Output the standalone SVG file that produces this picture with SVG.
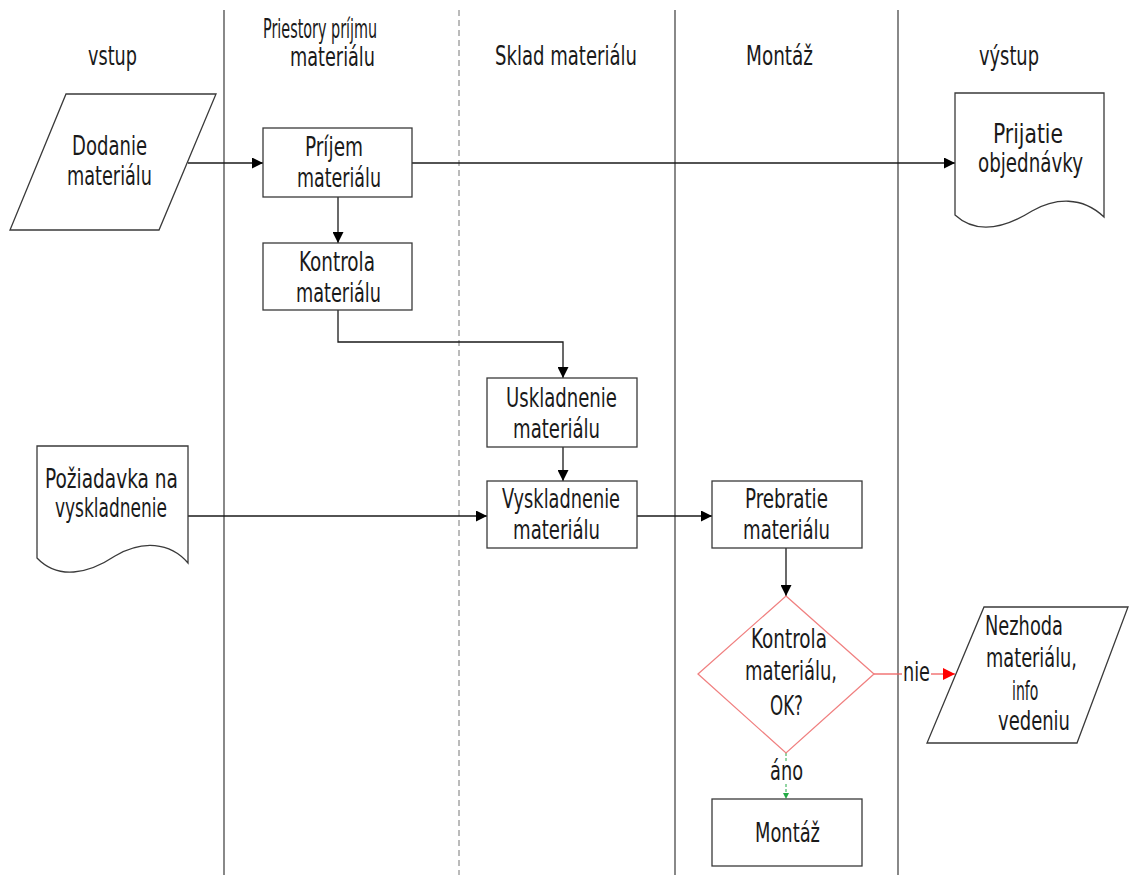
<svg xmlns="http://www.w3.org/2000/svg" width="1129" height="875" viewBox="0 0 1129 875">
<style>
text{font-family:"DejaVu Sans Condensed","DejaVu Sans","Liberation Sans Narrow",sans-serif;fill:#1a1a1a;font-size:26px}
.shape{fill:#fff;stroke:#3a3a3a;stroke-width:1.3}
.lane{stroke:#3a3a3a;stroke-width:1.2}
.conn{fill:none;stroke:#1a1a1a;stroke-width:1.3}
</style>
<defs>
<marker id="ah" viewBox="0 0 10 10" refX="10" refY="5" markerWidth="11" markerHeight="11" markerUnits="userSpaceOnUse" orient="auto"><path d="M0,0 L10,5 L0,10 Z" fill="#000"/></marker>
<marker id="ahr" viewBox="0 0 10 10" refX="10" refY="5" markerWidth="12" markerHeight="12" markerUnits="userSpaceOnUse" orient="auto"><path d="M0,0 L10,5 L0,10 Z" fill="#ff0000"/></marker>
<marker id="ahg" viewBox="0 0 10 10" refX="10" refY="5" markerWidth="6" markerHeight="6" markerUnits="userSpaceOnUse" orient="auto"><path d="M0,0 L10,5 L0,10 Z" fill="#22aa44"/></marker>
</defs>
<rect width="1129" height="875" fill="#fff"/>
<g id="lanes">
<line class="lane" x1="224" y1="10" x2="224" y2="875"/>
<line x1="459" y1="10" x2="459" y2="875" stroke="#777" stroke-width="1" stroke-dasharray="6,4"/>
<line class="lane" x1="675" y1="10" x2="675" y2="875"/>
<line class="lane" x1="898" y1="10" x2="898" y2="875"/>
<text x="88" y="65" textLength="49" lengthAdjust="spacingAndGlyphs">vstup</text>
<text transform="translate(263,38) scale(0.615,1)" x="0" y="0">Priestory príjmu</text>
<text x="290" y="66" textLength="85" lengthAdjust="spacingAndGlyphs">materiálu</text>
<text x="495" y="65" textLength="142" lengthAdjust="spacingAndGlyphs">Sklad materiálu</text>
<text x="746" y="65" textLength="67" lengthAdjust="spacingAndGlyphs">Montáž</text>
<text x="979" y="65" textLength="60" lengthAdjust="spacingAndGlyphs">výstup</text>
</g>
<g id="connectors">
<line class="conn" x1="188" y1="163" x2="263" y2="163" marker-end="url(#ah)"/>
<line class="conn" x1="412" y1="163" x2="955" y2="163" marker-end="url(#ah)"/>
<line class="conn" x1="338" y1="197" x2="338" y2="243" marker-end="url(#ah)"/>
<polyline class="conn" points="338,310 338,342 563,342 563,378" marker-end="url(#ah)"/>
<line class="conn" x1="563" y1="447" x2="563" y2="481" marker-end="url(#ah)"/>
<line class="conn" x1="188" y1="516" x2="487" y2="516" marker-end="url(#ah)"/>
<line class="conn" x1="637" y1="516" x2="712" y2="516" marker-end="url(#ah)"/>
<line class="conn" x1="786" y1="548" x2="786" y2="596" marker-end="url(#ah)"/>
<line x1="874" y1="674" x2="902" y2="674" stroke="#f06060" stroke-width="1.3"/>
<line x1="931" y1="674" x2="955" y2="674" stroke="#f06060" stroke-width="1.3" marker-end="url(#ahr)"/>
<line x1="786" y1="753" x2="786" y2="762" stroke="#22aa44" stroke-width="1" stroke-dasharray="3,2"/>
<line x1="786" y1="784" x2="786" y2="799" stroke="#22aa44" stroke-width="1" stroke-dasharray="3,2" marker-end="url(#ahg)"/>
<text x="903" y="681" textLength="27" lengthAdjust="spacingAndGlyphs">nie</text>
<text x="770" y="780" textLength="33" lengthAdjust="spacingAndGlyphs">áno</text>
</g>
<g id="dodanie">
<polygon class="shape" points="66,94 216,94 159,230 10,230"/>
<text x="72" y="155" textLength="75" lengthAdjust="spacingAndGlyphs">Dodanie</text>
<text x="67" y="185" textLength="85" lengthAdjust="spacingAndGlyphs">materiálu</text>
</g>
<g id="prijem">
<rect class="shape" x="263" y="128" width="149" height="69"/>
<text x="305" y="156" textLength="58" lengthAdjust="spacingAndGlyphs">Príjem</text>
<text x="297" y="187" textLength="84" lengthAdjust="spacingAndGlyphs">materiálu</text>
</g>
<g id="kontrola1">
<rect class="shape" x="263" y="243" width="149" height="67"/>
<text x="299" y="271" textLength="76" lengthAdjust="spacingAndGlyphs">Kontrola</text>
<text x="296" y="302" textLength="85" lengthAdjust="spacingAndGlyphs">materiálu</text>
</g>
<g id="prijatie">
<path class="shape" d="M955,93 H1104 V217 C1082,196 1055,198 1032,211 C1008,226 978,236 955,215 Z"/>
<text x="993" y="143" textLength="70" lengthAdjust="spacingAndGlyphs">Prijatie</text>
<text x="978" y="172" textLength="105" lengthAdjust="spacingAndGlyphs">objednávky</text>
</g>
<g id="uskladnenie">
<rect class="shape" x="487" y="378" width="150" height="69"/>
<text x="506" y="407" textLength="111" lengthAdjust="spacingAndGlyphs">Uskladnenie</text>
<text x="513" y="438" textLength="87" lengthAdjust="spacingAndGlyphs">materiálu</text>
</g>
<g id="poziadavka">
<path class="shape" d="M37,446 H188 V563 C170,542 142,540 115,556 C88,574 58,580 37,558 Z"/>
<text x="45" y="488" textLength="133" lengthAdjust="spacingAndGlyphs">Požiadavka na</text>
<text x="55" y="517" textLength="112" lengthAdjust="spacingAndGlyphs">vyskladnenie</text>
</g>
<g id="vyskladnenie">
<rect class="shape" x="487" y="481" width="150" height="67"/>
<text x="502" y="508" textLength="118" lengthAdjust="spacingAndGlyphs">Vyskladnenie</text>
<text x="513" y="539" textLength="87" lengthAdjust="spacingAndGlyphs">materiálu</text>
</g>
<g id="prebratie">
<rect class="shape" x="712" y="481" width="150" height="67"/>
<text x="745" y="508" textLength="83" lengthAdjust="spacingAndGlyphs">Prebratie</text>
<text x="743" y="539" textLength="87" lengthAdjust="spacingAndGlyphs">materiálu</text>
</g>
<g id="kontrola2">
<polygon points="786,596 874,674 786,753 698,674" fill="#fff" stroke="#f08080" stroke-width="1.3"/>
<text x="751" y="648" textLength="76" lengthAdjust="spacingAndGlyphs">Kontrola</text>
<text x="745" y="680" textLength="92" lengthAdjust="spacingAndGlyphs">materiálu,</text>
<text x="770" y="715" textLength="33" lengthAdjust="spacingAndGlyphs">OK?</text>
</g>
<g id="nezhoda">
<polygon class="shape" points="984,607 1128,607 1077,743 927,743"/>
<text x="985" y="635" textLength="78" lengthAdjust="spacingAndGlyphs">Nezhoda</text>
<text x="986" y="667" textLength="91" lengthAdjust="spacingAndGlyphs">materiálu,</text>
<text transform="translate(1012,700) scale(0.6,1)" x="0" y="0">info</text>
<text x="998" y="730" textLength="72" lengthAdjust="spacingAndGlyphs">vedeniu</text>
</g>
<g id="montaz">
<rect class="shape" x="712" y="799" width="150" height="67"/>
<text x="755" y="842" textLength="65" lengthAdjust="spacingAndGlyphs">Montáž</text>
</g>
</svg>
